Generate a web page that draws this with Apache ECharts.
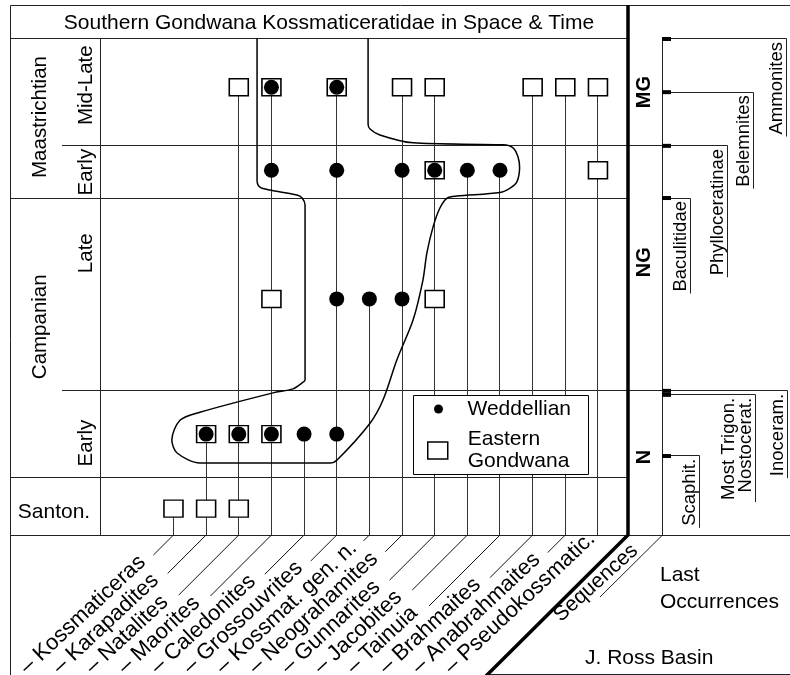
<!DOCTYPE html>
<html>
<head>
<meta charset="utf-8">
<script src="https://cdn.jsdelivr.net/npm/echarts@6/dist/echarts.min.js"></script>
<style>html,body{margin:0;padding:0;background:#fff}#c{width:790px;height:675px}</style>
</head>
<body>
<div id="c"></div>
<script>
// ================= DATA =================
const genera = ['Kossmaticeras','Karapadites','Natalites','Maorites','Caledonites','Grossouvrites',
  'Kossmat. gen. n.','Neograhamites','Gunnarites','Jacobites','Tainuia','Brahmaites','Anabrahmaites','Pseudokossmatic.'];
// time intervals, oldest first
const intervals = ['Santon.','Early','Late','Early','Mid-Late'];
const intervalStage = [0, 1, 1, 2, 2];
const stages = ['Santon.','Campanian','Maastrichtian'];
// relative stratigraphic level (0 = base of Santonian row, 100 = top of chart)
const intervalBounds = [0, 11.5, 29.0, 67.8, 78.3, 100];
const markerLevel = [5.3, 20.3, 47.5, 73.4, 90.1];
// occurrences: [genus index, interval index]
const weddellian = [[1,1],[2,1],[3,1],[4,1],[5,1],[5,2],[6,2],[7,2],
  [3,3],[5,3],[7,3],[8,3],[9,3],[10,3],[3,4],[5,4]];
const easternGondwana = [[0,0],[1,0],[2,0],[1,1],[2,1],[3,1],[3,2],[8,2],[8,3],[13,3],
  [2,4],[3,4],[5,4],[7,4],[8,4],[11,4],[12,4],[13,4]];
// outline of the Weddellian province envelope: [genus position, level]
const envelope = [
  [2.56,100],[2.56,71.4],[2.65,70.0],[2.96,69.4],[3.78,68.4],[3.94,67.8],[4.03,66.4],
  [4.03,31.2],[3.94,30.6],[3.66,29.4],[3.05,28.6],[0.81,24.7],[0.20,23.1],[-0.05,19.1],[0.11,16.5],[0.81,14.5],
  [4.79,14.5],[5.01,15.1],[6.02,22.5],[6.42,27.2],[6.84,35.2],[7.34,43.3],[7.64,51.3],[7.76,56.7],[7.95,62.0],
  [8.16,65.8],[8.38,67.8],[8.68,68.2],[10.00,68.9],[10.31,69.8],[10.52,71.1],[10.60,74.0],[10.55,76.1],
  [10.40,77.9],[10.09,78.5],[7.34,78.9],[6.32,80.5],[6.02,81.7],[5.96,82.7],[5.96,100]
];
const sequences = ['MG','NG','N'];
const sequenceLevel = [89.1, 54.9, 15.7];
const lastOccurrences = ['Ammonites','Belemnites','Phylloceratinae','Baculitidae','Inoceram.','Most Trigon.\nNostocerat.','Scaphit.'];
const lastOccurrenceLevel = [99.8, 89.1, 78.3, 67.8, 29.0, 28.2, 15.9];

// ================= LAYOUT =================
const FONT = '"Liberation Sans", Arial, Helvetica, sans-serif';
const FRAME_L = 10, FRAME_T = 5, TITLE_B = 38, AREA_B = 535, LABEL_R = 100, SUB_L = 62;
const THICK_X = 628, SEQ_R = 662, RIGHT = 790, BOTTOM = 674;
const STAGE_LABEL_LEVEL = [4.6, 41.9, 84.1];
const INTERVAL_LABEL_LEVEL = [null, 18.5, 56.7, 73.0, 90.5];
const LO_LINE_X = [786, 753, 727, 690, 787, 755, 699];
const GL_DX = -150, GL_DY = 135, GL_SIZE = 22, GL_ANGLE = 43 * Math.PI / 180;
const R = Math.SQRT1_2;
const crisp = v => Math.round(v - 0.5) + 0.5;
const mctx = document.createElement('canvas').getContext('2d');
function textWidth(t, size, weight) {
  mctx.font = (weight || 'normal') + ' ' + size + 'px ' + FONT;
  return Math.max.apply(null, t.split('\n').map(s => mctx.measureText(s).width));
}

const topLevel = genera.map((g, i) => {
  let m = 0;
  weddellian.concat(easternGondwana).forEach(([gi, k]) => { if (gi === i) m = Math.max(m, markerLevel[k]); });
  return m;
});

// ================= RENDERERS =================
function renderRange(params, api) {
  const p0 = api.coord([api.value(0), 0]);
  const p1 = api.coord([api.value(0), api.value(1)]);
  const x = crisp(p0[0]);
  return {type: 'line', shape: {x1: x, y1: p0[1], x2: x, y2: p1[1]}, style: {stroke: '#333', lineWidth: 1}};
}
function renderGenusLabel(params, api) {
  const i = params.dataIndex;
  const b = api.coord([api.value(0), 0]);
  const txt = '\u2013 ' + genera[i];
  const w = textWidth(txt, GL_SIZE);
  const px = b[0] + GL_DX, py = b[1] + GL_DY;
  const endY = py - w * Math.sin(GL_ANGLE) - 4;
  const children = [];
  if (endY > b[1] + 2) {
    const t = endY - b[1];
    children.push({type: 'line', shape: {x1: b[0], y1: b[1], x2: b[0] - t, y2: endY}, style: {stroke: '#111', lineWidth: 1}});
  }
  children.push({type: 'text', x: px, y: py, rotation: GL_ANGLE,
    style: {text: txt, fontSize: GL_SIZE, fontFamily: FONT, fill: '#000', align: 'left', verticalAlign: 'middle'}});
  return {type: 'group', children};
}
function renderBoundary(params, api) {
  const i = params.dataIndex;
  const y = crisp(api.coord([0, api.value(1)])[1]);
  let x1, x2;
  if (i === 0) { x1 = FRAME_L; x2 = RIGHT; }
  else if (i === intervalBounds.length - 1) { x1 = FRAME_L; x2 = THICK_X; }
  else if (intervalStage[i - 1] !== intervalStage[i]) { x1 = FRAME_L; x2 = THICK_X; }
  else { x1 = SUB_L; x2 = SEQ_R; }
  return {type: 'line', shape: {x1, y1: y, x2, y2: y}, style: {stroke: '#222', lineWidth: 1}};
}
function renderStage(params, api) {
  const i = params.dataIndex;
  const y = api.coord([0, api.value(1)])[1];
  const horiz = i === 0;
  return {type: 'text', x: horiz ? 54 : 40, y, rotation: horiz ? 0 : Math.PI / 2,
    style: {text: stages[i], fontSize: horiz ? 21 : 20.5, fontFamily: FONT, fill: '#000', align: 'center', verticalAlign: 'middle'}};
}
function renderInterval(params, api) {
  const i = api.value(2);
  const y = api.coord([0, api.value(1)])[1];
  return {type: 'text', x: 86, y, rotation: Math.PI / 2,
    style: {text: intervals[i], fontSize: 20.5, fontFamily: FONT, fill: '#000', align: 'center', verticalAlign: 'middle'}};
}
function renderSequence(params, api) {
  const i = params.dataIndex;
  const y = api.coord([0, api.value(1)])[1];
  return {type: 'text', x: 644, y, rotation: Math.PI / 2,
    style: {text: sequences[i], fontSize: 20, fontWeight: 'bold', fontFamily: FONT, fill: '#000', align: 'center', verticalAlign: 'middle'}};
}
function renderLastOcc(params, api) {
  const i = params.dataIndex;
  const y = api.coord([0, api.value(1)])[1];
  const lx = LO_LINE_X[i];
  const txt = lastOccurrences[i];
  const w = textWidth(txt, 18.5);
  const yc = crisp(y);
  return {type: 'group', children: [
    {type: 'rect', shape: {x: SEQ_R, y: y - 2, width: 9, height: 4}, style: {fill: '#000'}},
    {type: 'polyline', shape: {points: [[SEQ_R + 9, yc], [lx + 0.5, yc], [lx + 0.5, y + w + 5]]}, style: {stroke: '#222', lineWidth: 1, fill: null}},
    {type: 'text', x: lx - 1, y: y + 3, rotation: Math.PI / 2,
      style: {text: txt, fontSize: 18.5, lineHeight: 17, fontFamily: FONT, fill: '#000', align: 'right', verticalAlign: 'bottom'}}
  ]};
}

// ================= CHART =================
const chart = echarts.init(document.getElementById('c'), null, {renderer: 'canvas', width: 790, height: 675});
const txtStyle = (extra) => Object.assign({fontFamily: FONT, fill: '#000'}, extra);
chart.setOption({
  animation: false,
  backgroundColor: '#fff',
  grid: {left: LABEL_R, top: TITLE_B, width: THICK_X - LABEL_R, height: AREA_B - TITLE_B, containLabel: false, outerBoundsMode: 'none'},
  xAxis: {type: 'value', min: -2.25, max: 13.92, show: false},
  yAxis: {type: 'value', min: 0, max: 100, show: false},
  legend: [
    {data: ['Weddellian'], left: 434, top: 398, padding: 0, itemWidth: 20, itemHeight: 9, icon: 'circle', selectedMode: false,
      itemStyle: {color: '#000', borderWidth: 0},
      textStyle: {fontSize: 21, lineHeight: 22, fontFamily: FONT, color: '#000', padding: [0, 0, 0, 14]}},
    {data: ['Eastern Gondwana'], left: 427, top: 428.5, padding: 0, itemWidth: 20, itemHeight: 17, icon: 'rect', selectedMode: false,
      formatter: () => 'Eastern\nGondwana',
      itemStyle: {color: '#fff', borderColor: '#000', borderWidth: 1.5},
      textStyle: {fontSize: 21, lineHeight: 22, fontFamily: FONT, color: '#000', padding: [0, 0, 0, 15]}}
  ],
  graphic: {elements: [
    {type: 'polyline', z: 1, shape: {points: [[FRAME_L + 0.5, BOTTOM + 5], [FRAME_L + 0.5, FRAME_T + 0.5], [RIGHT + 5, FRAME_T + 0.5]]}, style: {stroke: '#222', lineWidth: 1, fill: null}},
    {type: 'line', z: 1, shape: {x1: LABEL_R + 0.5, y1: TITLE_B, x2: LABEL_R + 0.5, y2: AREA_B}, style: {stroke: '#222', lineWidth: 1}},
    {type: 'polyline', z: 1, shape: {points: [[SEQ_R + 0.5, TITLE_B + 1], [SEQ_R + 0.5, AREA_B], [600, 597]]}, style: {stroke: '#222', lineWidth: 1, fill: null}},
    {type: 'polyline', z: 5, shape: {points: [[THICK_X, FRAME_T], [THICK_X, AREA_B], [THICK_X - 142, BOTTOM + 2]]}, style: {stroke: '#000', lineWidth: 3.5, fill: null, lineJoin: 'miter'}},
    {type: 'line', z: 1, shape: {x1: THICK_X - 142, y1: BOTTOM + 0.5, x2: RIGHT, y2: BOTTOM + 0.5}, style: {stroke: '#222', lineWidth: 1}},
    {type: 'rect', z: 3, shape: {x: 413.5, y: 395.5, width: 175, height: 79}, style: {fill: '#fff', stroke: '#000', lineWidth: 1}},
    {type: 'text', z: 5, x: 329, y: 23, style: txtStyle({text: 'Southern Gondwana Kossmaticeratidae in Space & Time', fontSize: 21, align: 'center', verticalAlign: 'middle'})},
    {type: 'text', z: 5, x: 596, y: 583, rotation: 42 * Math.PI / 180, style: txtStyle({text: 'Sequences', fontSize: 21, align: 'center', verticalAlign: 'middle'})},
    {type: 'text', z: 5, x: 660, y: 589, style: txtStyle({text: 'Last\nOccurrences', fontSize: 21, lineHeight: 27, align: 'left', verticalAlign: 'middle'})},
    {type: 'text', z: 5, x: 585, y: 658, style: txtStyle({text: 'J. Ross Basin', fontSize: 21, align: 'left', verticalAlign: 'middle'})}
  ]},
  series: [
    {type: 'custom', name: 'boundaries', silent: true, clip: false, z: 1, renderItem: renderBoundary,
      data: intervalBounds.map(b => [0, b])},
    {type: 'custom', name: 'stages', silent: true, clip: false, z: 5, renderItem: renderStage,
      data: stages.map((s, i) => [0, STAGE_LABEL_LEVEL[i]])},
    {type: 'custom', name: 'intervals', silent: true, clip: false, z: 5, renderItem: renderInterval,
      data: intervals.map((s, i) => [0, INTERVAL_LABEL_LEVEL[i], i]).filter(d => d[1] !== null)},
    {type: 'custom', name: 'ranges', silent: true, clip: false, z: 2, renderItem: renderRange,
      data: genera.map((g, i) => [i, topLevel[i]])},
    {type: 'line', name: 'envelope', silent: true, data: envelope, smooth: 0.3, showSymbol: false, clip: false, z: 2,
      lineStyle: {color: '#000', width: 1.5}},
    {type: 'scatter', name: 'Eastern Gondwana', silent: true, z: 3, symbol: 'rect', symbolSize: [19, 17],
      itemStyle: {color: '#fff', borderColor: '#000', borderWidth: 1.5, opacity: 1},
      data: easternGondwana.map(([g, k]) => [g, markerLevel[k]])},
    {type: 'scatter', name: 'Weddellian', silent: true, z: 4, symbol: 'circle', symbolSize: 15,
      itemStyle: {color: '#000', opacity: 1},
      data: weddellian.map(([g, k]) => [g, markerLevel[k]])},
    {type: 'custom', name: 'genusLabels', silent: true, clip: false, z: 5, renderItem: renderGenusLabel,
      data: genera.map((g, i) => [i, 0])},
    {type: 'custom', name: 'sequences', silent: true, clip: false, z: 5, renderItem: renderSequence,
      data: sequences.map((s, i) => [0, sequenceLevel[i]])},
    {type: 'custom', name: 'lastOccurrences', silent: true, clip: false, z: 5, renderItem: renderLastOcc,
      data: lastOccurrences.map((s, i) => [0, lastOccurrenceLevel[i]])}
  ]
});
</script>
</body>
</html>
